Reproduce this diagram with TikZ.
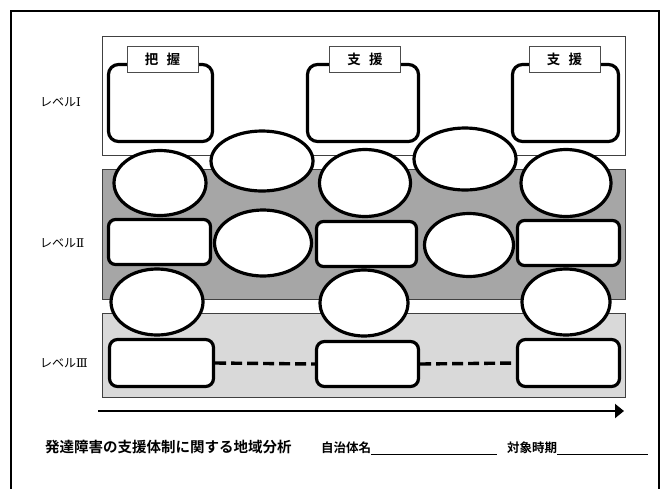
\documentclass[tikz,border=0pt]{standalone}
\usepackage{fontspec}
\setmainfont{Noto Sans CJK JP}
\newfontfamily\jpb{Noto Sans CJK JP Bold}
\newfontfamily\romanfont{DejaVu Serif}
\usetikzlibrary{shapes.geometric,arrows.meta}
\definecolor{midgray}{RGB}{166,166,166}
\definecolor{lightgray2}{RGB}{217,217,217}
\tikzset{
  oval/.style={ellipse, draw, line width=3.2pt, fill=white, inner sep=0pt},
  rbox/.style={rectangle, rounded corners=10pt, draw, line width=3.2pt, fill=white, inner sep=0pt},
  tag/.style={rectangle, draw=black!70, line width=0.8pt, fill=white, minimum width=71pt, minimum height=26pt, inner sep=0pt, font=\jpb\fontsize{13.5}{13.5}\selectfont},
  level/.style={rectangle, draw=black!75, line width=0.9pt},
  lvltext/.style={font=\fontsize{12}{12}\selectfont, inner sep=0pt, anchor=west},
  dashlink/.style={line width=3.4pt, dash pattern=on 11pt off 5pt}
}
\begin{document}
\begin{tikzpicture}[x=1pt,y=-1pt]
\useasboundingbox[fill=white] (0,0) rectangle (667,488);
% outer frame (bottom edge beyond the page)
\draw[line width=2pt] (11,495) -- (11,11) -- (659,11) -- (659,495);
% level backgrounds
\node[level, fill=white, minimum width=523pt, minimum height=119pt, anchor=north west] (L1) at (102,36) {};
\node[level, fill=midgray, minimum width=523pt, minimum height=130pt, anchor=north west] (L2) at (102,169) {};
\node[level, fill=lightgray2, minimum width=523pt, minimum height=84pt, anchor=north west] (L3) at (102,313) {};
% level labels
\node[lvltext] (t1) at (40,102) {レベル{\romanfont Ⅰ}};
\node[lvltext] (t2) at (40,243) {レベル{\romanfont Ⅱ}};
\node[lvltext] (t3) at (40,363) {レベル{\romanfont Ⅲ}};
% level I boxes
\node[rbox, minimum width=104pt, minimum height=77pt] (A1) at (160.5,103) {};
\node[rbox, minimum width=111pt, minimum height=77pt] (A2) at (363,103) {};
\node[rbox, minimum width=106pt, minimum height=77pt] (A3) at (565.5,103) {};
\node[tag] (g1) at (162.5,59) {把\hspace{0.6em}握};
\node[tag] (g2) at (365,59) {支\hspace{0.6em}援};
\node[tag] (g3) at (564.5,59) {支\hspace{0.6em}援};
% level II rects
\node[rbox, rounded corners=7pt, minimum width=102pt, minimum height=45pt] (R1) at (159.5,242) {};
\node[rbox, rounded corners=7pt, minimum width=100pt, minimum height=45pt] (R2) at (366.5,244) {};
\node[rbox, rounded corners=7pt, minimum width=102pt, minimum height=45pt] (R3) at (568.5,243) {};
% level III rects
\node[rbox, rounded corners=8pt, minimum width=104pt, minimum height=47pt] (S1) at (161.5,363) {};
\node[rbox, rounded corners=8pt, minimum width=102pt, minimum height=45pt] (S2) at (367.5,364) {};
\node[rbox, rounded corners=8pt, minimum width=102pt, minimum height=47pt] (S3) at (568.5,363) {};
\draw[dashlink] (S1.east) -- (S2.west);
\draw[dashlink] (S2.east) -- (S3.west);
% ellipses
\node[oval, minimum width=102pt, minimum height=60pt] (EA) at (262,161) {};
\node[oval, minimum width=102pt, minimum height=62pt] (EB) at (465,159) {};
\node[oval, minimum width=92pt, minimum height=65pt] (T1) at (160,183) {};
\node[oval, minimum width=91pt, minimum height=67pt] (T2) at (365,183) {};
\node[oval, minimum width=90pt, minimum height=67pt] (T3) at (566,183) {};
\node[oval, minimum width=97pt, minimum height=66pt] (M1) at (263,243) {};
\node[oval, minimum width=89pt, minimum height=63pt] (M2) at (469,245) {};
\node[oval, minimum width=92pt, minimum height=66pt] (B1) at (157,302) {};
\node[oval, minimum width=88pt, minimum height=66pt] (B2) at (364,303) {};
\node[oval, minimum width=88pt, minimum height=66pt] (B3) at (566,302) {};
% time arrow
\coordinate (ar0) at (98,411);
\coordinate (ar1) at (624,411);
\draw[line width=2pt, -{Triangle[length=9pt,width=14pt]}] (ar0) -- (ar1);
% footer
\node[font=\jpb\fontsize{14.5}{14.5}\selectfont, anchor=west, inner sep=0pt] (title) at (45,447) {発達障害の支援体制に関する地域分析};
\node[font=\jpb\fontsize{12.5}{12.5}\selectfont, anchor=west, inner sep=0pt] (muni) at (321,448) {自治体名};
\node[font=\jpb\fontsize{12.5}{12.5}\selectfont, anchor=west, inner sep=0pt] (period) at (507,448) {対象時期};
\coordinate (u1) at (497,454);
\coordinate (u2) at (648,454);
\draw[line width=1pt] (muni.east |- u1) -- (u1);
\draw[line width=1pt] (period.east |- u2) -- (u2);
\end{tikzpicture}
\end{document}
